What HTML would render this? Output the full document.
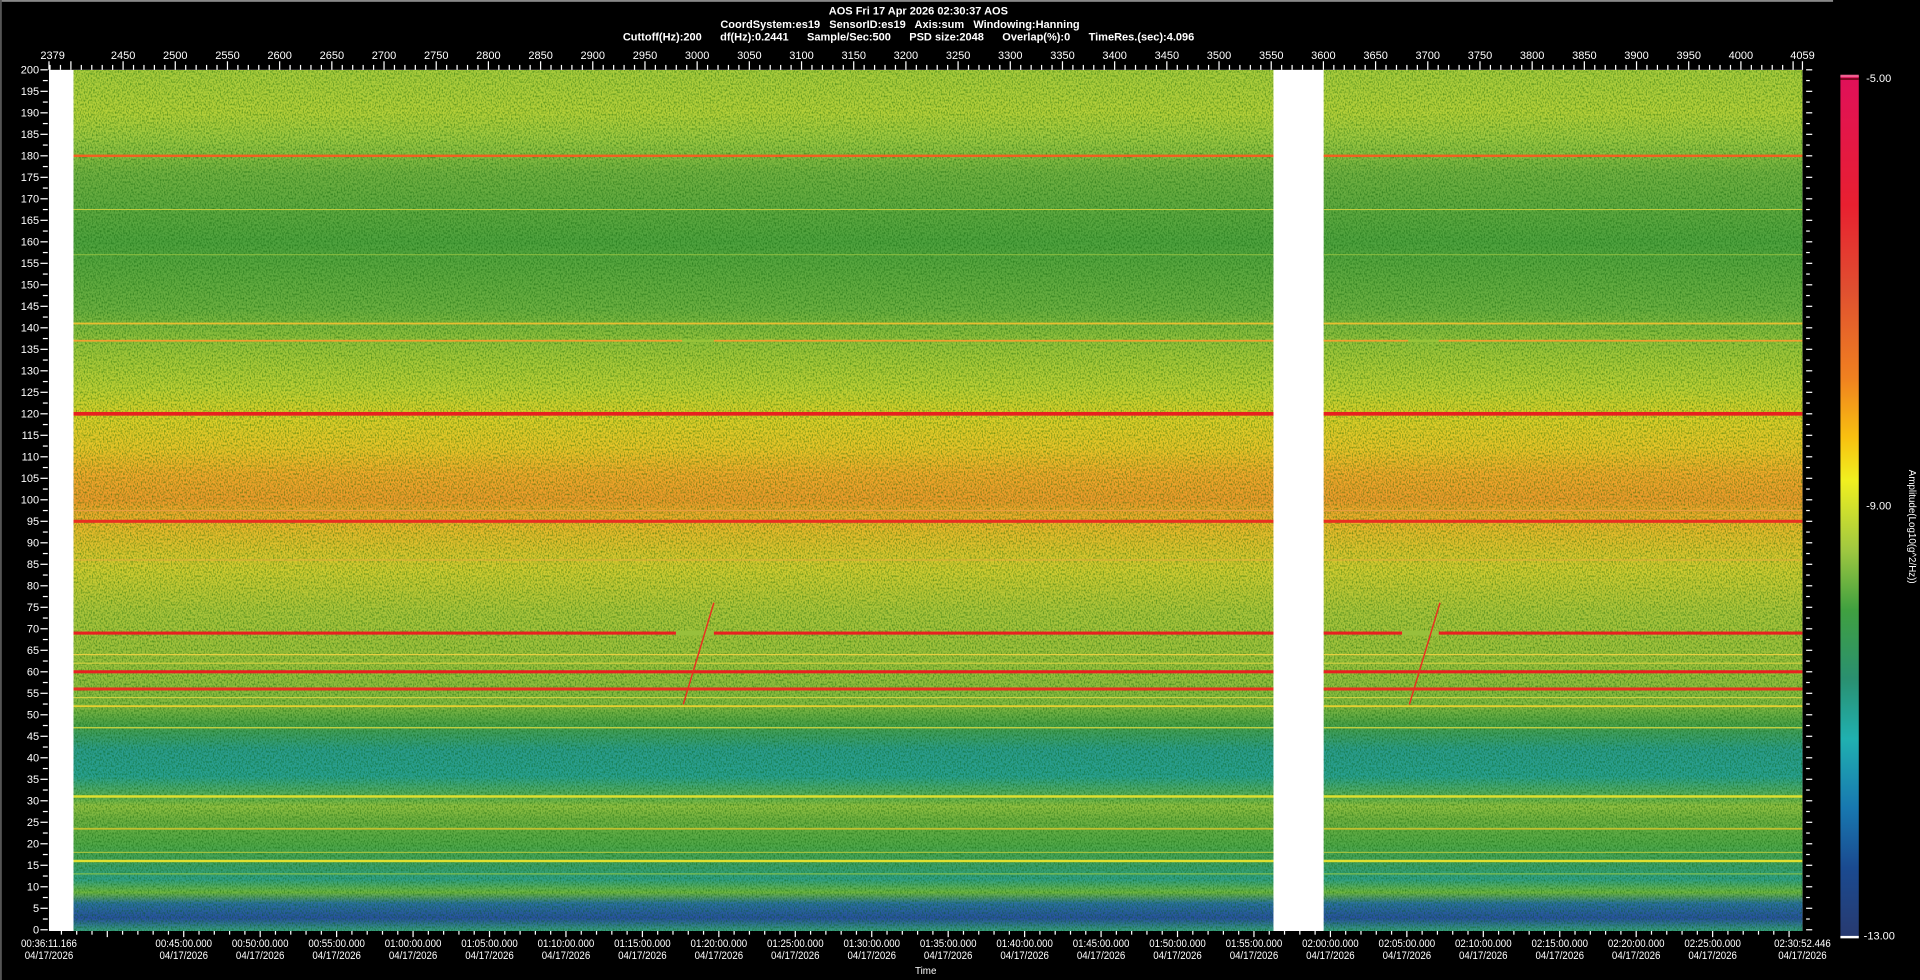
<!DOCTYPE html>
<html><head><meta charset="utf-8">
<style>
html,body{margin:0;padding:0;background:#000;width:1920px;height:980px;overflow:hidden}
svg{display:block}
text{font-family:"Liberation Sans",sans-serif;fill:#fff}
</style></head>
<body>
<svg id="s" width="1920" height="980" viewBox="0 0 1568 800" preserveAspectRatio="none" xmlns="http://www.w3.org/2000/svg">
<defs>
<linearGradient id="spec" x1="0" y1="0" x2="0" y2="1">
<stop offset="0" stop-color="#a8cc3c"/>
<stop offset="0.05" stop-color="#b4d038"/>
<stop offset="0.08" stop-color="#9cc840"/>
<stop offset="0.12" stop-color="#70b040"/>
<stop offset="0.2" stop-color="#4ea23e"/>
<stop offset="0.28" stop-color="#6cb040"/>
<stop offset="0.32" stop-color="#98c43a"/>
<stop offset="0.37" stop-color="#bcd034"/>
<stop offset="0.40" stop-color="#d8d028"/>
<stop offset="0.44" stop-color="#e8c428"/>
<stop offset="0.47" stop-color="#f0a82a"/>
<stop offset="0.50" stop-color="#ec9a2a"/>
<stop offset="0.53" stop-color="#e8b82a"/>
<stop offset="0.58" stop-color="#d0cc30"/>
<stop offset="0.63" stop-color="#a8c43a"/>
<stop offset="0.70" stop-color="#98c03c"/>
<stop offset="0.74" stop-color="#80b840"/>
<stop offset="0.76" stop-color="#4aa048"/>
<stop offset="0.79" stop-color="#2a9c8c"/>
<stop offset="0.82" stop-color="#28a090"/>
<stop offset="0.845" stop-color="#60b050"/>
<stop offset="0.855" stop-color="#90c040"/>
<stop offset="0.87" stop-color="#70b040"/>
<stop offset="0.90" stop-color="#50a848"/>
<stop offset="0.92" stop-color="#40a060"/>
<stop offset="0.94" stop-color="#30a088"/>
<stop offset="0.955" stop-color="#70b840"/>
<stop offset="0.968" stop-color="#2a70a0"/>
<stop offset="0.985" stop-color="#2850a0"/>
<stop offset="1" stop-color="#38a080"/>
</linearGradient>
<linearGradient id="cb" x1="0" y1="0" x2="0" y2="1">
<stop offset="0" stop-color="#e0105a"/>
<stop offset="0.15" stop-color="#e82030"/>
<stop offset="0.25" stop-color="#e05030"/>
<stop offset="0.35" stop-color="#f08020"/>
<stop offset="0.42" stop-color="#f8c010"/>
<stop offset="0.47" stop-color="#f0f020"/>
<stop offset="0.55" stop-color="#a0c840"/>
<stop offset="0.62" stop-color="#40a040"/>
<stop offset="0.70" stop-color="#2a9070"/>
<stop offset="0.77" stop-color="#20b0b0"/>
<stop offset="0.85" stop-color="#1878b0"/>
<stop offset="0.92" stop-color="#1a4a90"/>
<stop offset="1" stop-color="#283a70"/>
</linearGradient>
<filter id="noise" x="0" y="0" width="100%" height="100%">
<feTurbulence type="fractalNoise" baseFrequency="0.9 0.6" numOctaves="1" seed="3"/>
<feColorMatrix type="matrix" values="0 0 0 0 0  0 0 0 0 0.1  0 0 0 0 0  0 0 0 -2.6 1.5"/>
</filter>
<clipPath id="plotclip"><rect x="60" y="57" width="980" height="703"/><rect x="1081" y="57" width="391" height="703"/></clipPath>
</defs>
<rect x="0" y="0" width="1497" height="1.5" fill="#888"/>
<rect x="0" y="0" width="1.5" height="800" fill="#555"/>
<text x="750" y="12" font-size="9" font-weight="bold" text-anchor="middle">AOS  Fri 17 Apr 2026 02:30:37  AOS</text>
<text x="735" y="23" font-size="9" font-weight="bold" text-anchor="middle" xml:space="preserve">CoordSystem:es19   SensorID:es19   Axis:sum   Windowing:Hanning</text>
<text x="742" y="33" font-size="9" font-weight="bold" text-anchor="middle" xml:space="preserve">Cuttoff(Hz):200      df(Hz):0.2441      Sample/Sec:500      PSD size:2048      Overlap(%):0      TimeRes.(sec):4.096</text>
<rect x="40" y="57" width="1432" height="703" fill="#fff"/>
<g id="plot" clip-path="url(#plotclip)">
<rect x="60" y="57" width="1412" height="703" fill="url(#spec)"/>
<rect x="60" y="57" width="1412" height="703" filter="url(#noise)" opacity="0.5"/>
</g>
<g id="ax"></g>
<rect x="1503" y="62" width="15" height="703" fill="url(#cb)"/>
<rect x="1503" y="61" width="15" height="2" fill="#f06090"/>
<rect x="1503" y="64" width="15" height="1" fill="#400"/>
<rect x="1503" y="764" width="15" height="2" fill="#fff"/>
<text x="1524" y="67" font-size="9">-5.00</text>
<text x="1524" y="416" font-size="9">-9.00</text>
<text x="1522" y="767" font-size="9">-13.00</text>
<text transform="translate(1559,430) rotate(90)" font-size="8" text-anchor="middle">Amplitude(Log10(g^2/Hz))</text>
<text x="756" y="795" font-size="8" text-anchor="middle">Time</text>
</svg>
<script>
var NS="http://www.w3.org/2000/svg";
function el(p,t,a,txt){var e=document.createElementNS(NS,t);for(var k in a)e.setAttribute(k,a[k]);if(txt!=null)e.textContent=txt;p.appendChild(e);return e;}
var plot=document.getElementById('plot'),ax=document.getElementById('ax');
function fy(f){return 759-f*3.51;}
var lines=[[180,'#f06020',2],[167.5,'#c8d040',0.8],[157,'#90c040',0.8],[141,'#e8c030',1.5],[137,'#f0a030',1.5],[120,'#e82020',3],[97.5,'#e8a040',1],[95,'#e83020',2.5],[86,'#e8b040',0.8],
[69,'#e82020',2.5],[64,'#e8d040',1],[62,'#d0d040',1],[60,'#e82020',2.5],[56,'#e83020',2.5],[54,'#d0d040',1],[52,'#e8d030',1.5],[47,'#c0d040',1.2],[31,'#e0e030',2],[23.5,'#c0c030',1.5],[18,'#a0c040',1],[16,'#e0e030',2],[13,'#80c050',1]];
lines.forEach(function(l){el(plot,'rect',{x:60,y:fy(l[0])-l[2]/2,width:1412,height:l[2],fill:l[1]});});
[[552,583],[1145,1175]].forEach(function(g){
 el(plot,'rect',{x:g[0],y:fy(69)-2,width:g[1]-g[0],height:4,fill:'#98c03c'});
 el(plot,'rect',{x:g[0]+5,y:fy(137)-1,width:g[1]-g[0]-5,height:2,fill:'#98c43a'});
 el(plot,'line',{x1:g[0]+6,y1:575,x2:g[0]+31,y2:492,stroke:'#e83020','stroke-width':1.2});
});
function xv(v){return 40+(v-2379)*0.8524;}
for(var v=2380;v<=4059;v+=10){var x=xv(v);var maj=(v%50==0);el(ax,'rect',{x:x-0.5,y:maj?50:53,width:1,height:maj?7:4,fill:'#fff'});}
el(ax,'rect',{x:39.5,y:50,width:1,height:7,fill:'#fff'});el(ax,'rect',{x:1471.5,y:50,width:1,height:7,fill:'#fff'});
el(ax,'text',{x:43,y:48,'font-size':9,'text-anchor':'middle'},'2379');
for(var v=2450;v<=4000;v+=50){el(ax,'text',{x:xv(v),y:48,'font-size':9,'text-anchor':'middle'},String(v));}
el(ax,'text',{x:1472,y:48,'font-size':9,'text-anchor':'middle'},'4059');
for(var f=0;f<=200;f+=5){var y=fy(f);el(ax,'rect',{x:33,y:y-0.5,width:6,height:1,fill:'#fff'});el(ax,'text',{x:32,y:y+3,'font-size':9,'text-anchor':'end'},String(f));
 if(f<200){el(ax,'rect',{x:35,y:fy(f+2.5)-0.5,width:4,height:1,fill:'#fff'});}
 el(ax,'rect',{x:1475,y:y-0.5,width:5,height:1,fill:'#fff'});
 if(f<200)el(ax,'rect',{x:1475,y:fy(f+2.5)-0.5,width:3,height:1,fill:'#fff'});}
function tx(s){return 40+s*0.2081;}
var t0=36*60+11.166;
for(var s=37*60;s<=150*60+52;s+=60){var x=tx(s-t0);var maj=(s%300==0);el(ax,'rect',{x:x-0.5,y:760,width:1,height:maj?5:3,fill:'#fff'});}
function lab(x,a,b){
 var g=el(ax,'g',{transform:'translate('+x+',0) scale(0.88,1)'});
 el(g,'text',{x:0,y:773,'font-size':9,'text-anchor':'middle'},a);el(g,'text',{x:0,y:783,'font-size':9,'text-anchor':'middle'},b);}
lab(40,'00:36:11.166','04/17/2026');
for(var m=45;m<=145;m+=5){var s=m*60;var h=Math.floor(m/60),mm=m%60;var str=('0'+h).slice(-2)+':'+('0'+mm).slice(-2)+':00.000';lab(tx(s-t0),str,'04/17/2026');}
lab(1472,'02:30:52.446','04/17/2026');
</script>
</body></html>
